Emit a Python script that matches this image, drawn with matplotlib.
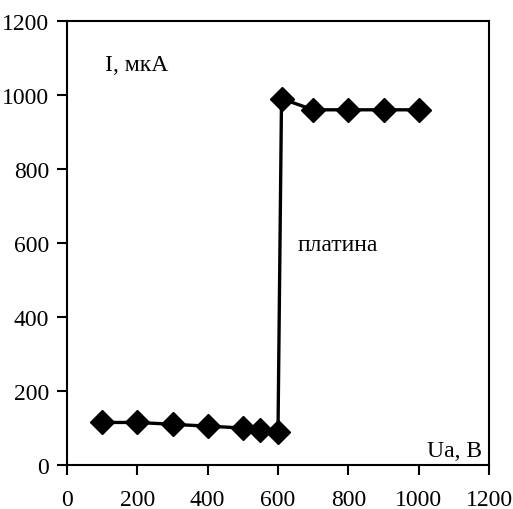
import matplotlib.pyplot as plt

plt.rcParams['font.family'] = ['Liberation Serif', 'DejaVu Serif']

# data
voltage = [100, 200, 300, 400, 500, 550, 600, 610, 700, 800, 900, 1000]
current = [115, 115, 110, 105, 100, 95, 90, 990, 960, 960, 960, 960]

x_ticks = [0, 200, 400, 600, 800, 1000, 1200]
y_ticks = [0, 200, 400, 600, 800, 1000, 1200]

fig = plt.figure(figsize=(5.13, 5.10), dpi=100)
ax = fig.add_axes([67 / 513, 44 / 510, 422 / 513, 444 / 510])

ax.plot(voltage, current, color='black', linewidth=2.4,
        marker='D', markersize=12, markerfacecolor='black',
        markeredgecolor='black')

ax.set_xlim(0, 1200)
ax.set_ylim(0, 1200)
ax.set_xticks(x_ticks)
ax.set_yticks(y_ticks)
ax.tick_params(direction='out', length=7, width=1.5, labelsize=17)
ax.tick_params(axis='y', pad=6)
ax.tick_params(axis='x', pad=10)

for spine in ax.spines.values():
    spine.set_linewidth(1.5)

ax.text(108, 1083, "I, мкА", fontsize=17, va='center')
ax.text(1103, 38, "Ua, B", fontsize=17, ha='center', va='center')
ax.text(770, 597, "платина", fontsize=17, ha='center', va='center')

plt.savefig("out.png", dpi=100)
